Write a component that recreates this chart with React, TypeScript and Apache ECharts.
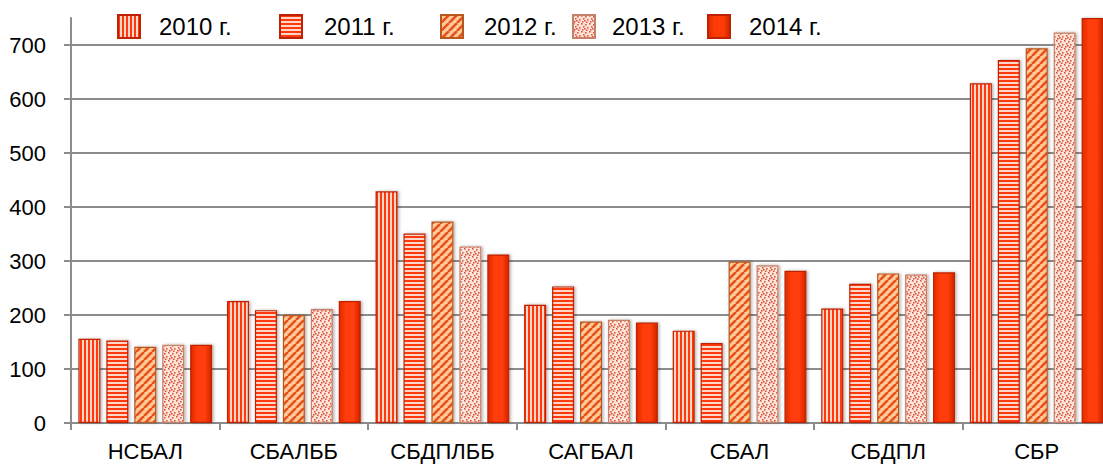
import React, { useEffect, useRef } from "react";
import * as echarts from "echarts";

const categories = ["НСБАЛ", "СБАЛББ", "СБДПЛББ", "САГБАЛ", "СБАЛ", "СБДПЛ", "СБР"];
const years = ["2010 г.", "2011 г.", "2012 г.", "2013 г.", "2014 г."];
const v2010 = [156, 226, 429, 219, 171, 212, 629];
const v2011 = [153, 209, 351, 253, 148, 258, 672];
const v2012 = [141, 200, 373, 188, 299, 277, 694];
const v2013 = [145, 211, 327, 191, 292, 275, 723];
const v2014 = [145, 226, 312, 186, 282, 279, 750];
const seriesValues = [v2010, v2011, v2012, v2013, v2014];
const yMin = 0;
const yMax = 750;
const yStep = 100;

function makeTile(w: number, h: number, draw: (ctx: CanvasRenderingContext2D) => void) {
  const c = document.createElement("canvas");
  c.width = w;
  c.height = h;
  const ctx = c.getContext("2d") as CanvasRenderingContext2D;
  draw(ctx);
  return { image: c.toDataURL(), repeat: "repeat", imageWidth: w, imageHeight: h } as any;
}

export default function App() {
  const ref = useRef<HTMLDivElement>(null);
  useEffect(() => {
    if (!ref.current) return;
    const chart = echarts.init(ref.current, undefined, { renderer: "svg" });

    const red = "#FF3A0E";
    const vStripes = makeTile(4, 4, (ctx) => {
      ctx.fillStyle = "#FFD6CA";
      ctx.fillRect(0, 0, 4, 4);
      ctx.fillStyle = red;
      ctx.fillRect(0, 0, 2, 4);
    });
    const hStripes = makeTile(4, 4, (ctx) => {
      ctx.fillStyle = "#FFD6CA";
      ctx.fillRect(0, 0, 4, 4);
      ctx.fillStyle = red;
      ctx.fillRect(0, 0, 4, 2);
    });
    const diag = makeTile(8, 8, (ctx) => {
      ctx.fillStyle = "#FFCB98";
      ctx.fillRect(0, 0, 8, 8);
      ctx.strokeStyle = "#E8501E";
      ctx.lineWidth = 2.6;
      for (const k of [-8, 0, 8]) {
        ctx.beginPath();
        ctx.moveTo(k, 8);
        ctx.lineTo(k + 8, 0);
        ctx.stroke();
      }
    });
    const dots = makeTile(8, 8, (ctx) => {
      ctx.fillStyle = "#FCE4D8";
      ctx.fillRect(0, 0, 8, 8);
      ctx.fillStyle = "#E2563E";
      const pts = [[0, 0], [4, 1], [2, 3], [6, 4], [1, 6], [5, 6.5], [3, 5]];
      for (const [x, y] of pts) ctx.fillRect(x, y, 1.6, 1.6);
    });
    const solid = {
      type: "linear", x: 0, y: 0, x2: 1, y2: 0,
      colorStops: [
        { offset: 0, color: "#E02A00" },
        { offset: 0.3, color: "#FF3C08" },
        { offset: 0.7, color: "#FF3C08" },
        { offset: 1, color: "#CC2600" },
      ],
    };
    const fills = [vStripes, hStripes, diag, dots, solid];
    const borders = ["#BE2200", "#BE2200", "#B8581E", "#C8806A", "#BE2200"];

    const legendLefts = [117, 279, 440, 572, 707];
    const legendPads = [14, 17, 16, 12, 14];

    const axisGray = "#8c8c8c";
    const font = "'Liberation Sans', Arial, sans-serif";

    chart.setOption({
      animation: false,
      backgroundColor: "#ffffff",
      legend: years.map((y, i) => ({
        data: [{ name: y, icon: "rect" }],
        left: legendLefts[i],
        top: 14,
        itemWidth: 22,
        itemHeight: 23,
        padding: 0,
        textStyle: {
          fontSize: 24,
          color: "#000",
          fontFamily: font,
          padding: [0, 0, 0, legendPads[i]],
        },
      })),
      grid: { left: 71, right: 0, top: 18, bottom: 45, containLabel: false },
      xAxis: {
        type: "category",
        data: categories,
        axisLine: { lineStyle: { color: axisGray, width: 2 } },
        axisTick: { show: true, length: 7, lineStyle: { color: axisGray, width: 2 } },
        axisLabel: { fontSize: 22, color: "#000", fontFamily: font, margin: 17 },
      },
      yAxis: {
        type: "value",
        min: yMin,
        max: yMax,
        interval: yStep,
        axisLine: { show: true, lineStyle: { color: axisGray, width: 2 } },
        axisTick: { show: true, length: 7, lineStyle: { color: axisGray, width: 2 } },
        axisLabel: { fontSize: 22, color: "#000", fontFamily: font, margin: 25, showMaxLabel: false },
        splitLine: { show: true, showMaxLine: false, lineStyle: { color: axisGray, width: 2 } },
      },
      series: seriesValues.map((vals, i) => ({
        type: "bar",
        name: years[i],
        data: vals,
        barWidth: 22,
        barGap: "27%",
        itemStyle: {
          color: fills[i],
          borderColor: borders[i],
          borderWidth: 1.2,
          shadowColor: "rgba(0,0,0,0.3)",
          shadowBlur: 3,
          shadowOffsetX: 1.5,
          shadowOffsetY: 0,
        },
      })),
    });
    return () => chart.dispose();
  }, []);
  return (
    <div
      ref={ref}
      style={{ position: "fixed", left: 0, top: 0, width: 1111, height: 468 }}
    />
  );
}
